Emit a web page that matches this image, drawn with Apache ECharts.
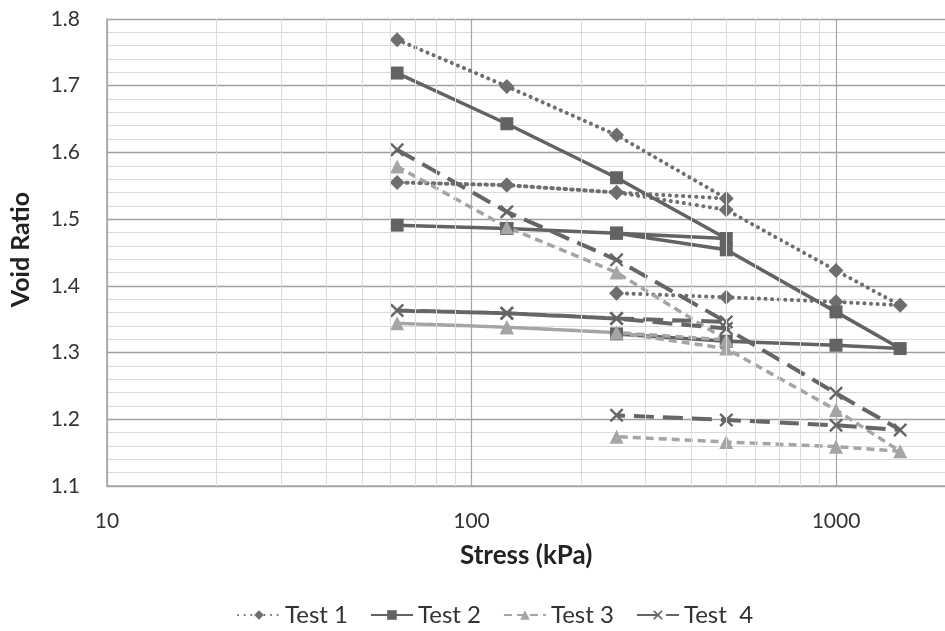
<!DOCTYPE html>
<html><head><meta charset="utf-8">
<script src="https://cdn.jsdelivr.net/npm/echarts@6/dist/echarts.min.js"></script>
<style>html,body{margin:0;padding:0;background:#fff;overflow:hidden;width:945px;height:631px}#c{width:1400px;height:631px}</style>
</head><body><div id="c"></div>
<script>
// ---- data ----
var stress = [62.5, 125, 250, 500, 250, 125, 62.5, 125, 250, 500, 1000, 1500, 1000, 500, 250];
var test1 = [1.769, 1.699, 1.626, 1.531, 1.540, 1.551, 1.555, 1.551, 1.540, 1.514, 1.423, 1.371, 1.376, 1.383, 1.389];
var test2 = [1.719, 1.643, 1.562, 1.471, 1.479, 1.486, 1.491, 1.486, 1.479, 1.454, 1.361, 1.306, 1.311, 1.317, 1.328];
var test3 = [1.579, 1.488, 1.420, 1.319, 1.330, 1.338, 1.344, 1.338, 1.330, 1.306, 1.214, 1.152, 1.159, 1.166, 1.174];
var test4 = [1.604, 1.511, 1.439, 1.346, 1.351, 1.359, 1.363, 1.359, 1.351, 1.336, 1.239, 1.184, 1.191, 1.199, 1.206];
var seriesNames = ['Test 1', 'Test 2', 'Test 3', 'Test  4'];
var minorX = [20, 30, 40, 50, 60, 70, 80, 90, 200, 300, 400, 500, 600, 700, 800, 900, 2000, 3000, 4000, 5000, 6000, 7000, 8000, 9000];

function pairs(xs, ys) { return xs.map(function (x, i) { return [x, ys[i]]; }); }

var FONT = 'Lato, "Liberation Sans", sans-serif';
var xSym = 'path://M0,1.2L1.2,0L5,3.8L8.8,0L10,1.2L6.2,5L10,8.8L8.8,10L5,6.2L1.2,10L0,8.8L3.8,5Z';

var chart = echarts.init(document.getElementById('c'), null, { renderer: 'canvas' });
chart.setOption({
  backgroundColor: '#ffffff',
  animation: false,
  textStyle: { fontFamily: FONT },
  grid: { left: 107, top: 19, width: 1093.5, height: 467, containLabel: false },
  xAxis: {
    type: 'log', logBase: 10, min: 10, max: 10000,
    axisLine: { show: true, lineStyle: { color: '#a6a6a6', width: 1.5 } },
    axisTick: { show: false },
    axisLabel: { fontSize: 21, color: '#333', margin: 25, fontFamily: FONT, formatter: function (v) { return String(v); } },
    splitLine: { show: true, lineStyle: { color: '#a6a6a6', width: 1.2 } },
    minorTick: { show: false }, minorSplitLine: { show: false }
  },
  yAxis: {
    type: 'value', min: 1.1, max: 1.8, interval: 0.1,
    axisLine: { show: true, lineStyle: { color: '#a6a6a6', width: 1.5 } },
    axisTick: { show: false },
    axisLabel: { fontSize: 21, color: '#333', margin: 27, fontFamily: FONT, formatter: function (v) { return v.toFixed(1); } },
    splitLine: { show: true, lineStyle: { color: '#a0a0a0', width: 1.3 } },
    minorTick: { show: false, splitNumber: 5 },
    minorSplitLine: { show: true, lineStyle: { color: '#dadada', width: 1 } }
  },
  legend: {
    left: 232, top: 598, itemWidth: 42, itemHeight: 12, itemGap: 22,
    textStyle: { fontSize: 24, color: '#333', fontFamily: FONT },
    data: seriesNames
  },
  graphic: [
    { type: 'text', left: 460, top: 543, style: { text: 'Stress (kPa)', font: 'bold 26px ' + FONT, fill: '#222' } },
    { type: 'text', left: 8, top: 192, rotation: Math.PI / 2, style: { text: 'Void Ratio', font: 'bold 25px ' + FONT, fill: '#222' } }
  ],
  series: [
    {
      type: 'line', name: 'grid', data: [], silent: true, z: 1,
      markLine: {
        silent: true, symbol: 'none', label: { show: false }, animation: false,
        lineStyle: { color: '#dadada', width: 1, type: 'solid' },
        data: minorX.map(function (v) { return { xAxis: v }; })
      }
    },
    {
      type: 'line', name: seriesNames[0], data: pairs(stress, test1), z: 3,
      symbol: 'diamond', symbolSize: 15,
      itemStyle: { color: '#6e6e6e' },
      lineStyle: { color: '#6e6e6e', width: 4, type: [0.1, 6.5], cap: 'round' }
    },
    {
      type: 'line', name: seriesNames[1], data: pairs(stress, test2), z: 3,
      symbol: 'rect', symbolSize: 13,
      itemStyle: { color: '#636363' },
      lineStyle: { color: '#636363', width: 3.5, type: 'solid' }
    },
    {
      type: 'line', name: seriesNames[2], data: pairs(stress, test3), z: 3,
      symbol: 'triangle', symbolSize: 14,
      itemStyle: { color: '#a5a5a5' },
      lineStyle: { color: '#a5a5a5', width: 3.5, type: [8, 5] }
    },
    {
      type: 'line', name: seriesNames[3], data: pairs(stress, test4), z: 3,
      symbol: xSym, symbolSize: 14,
      itemStyle: { color: '#666666' },
      lineStyle: { color: '#666666', width: 4, type: [20, 9] }
    }
  ]
});
</script></body></html>
